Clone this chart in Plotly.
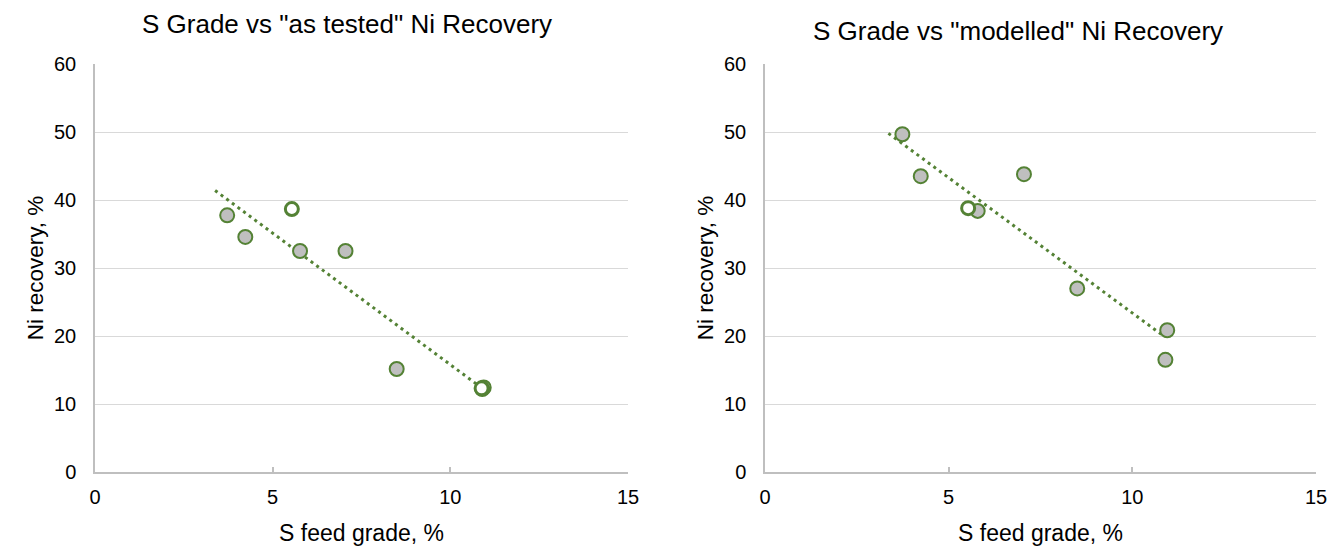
import plotly.graph_objects as go

# ---- data ----
tested_x = [3.72, 4.23, 5.77, 7.05, 8.49, 10.94, 10.90]
tested_y = [37.75, 34.57, 32.5, 32.5, 15.15, 12.43, 12.2]
tested_open_x = [5.54, 10.88]
tested_open_y = [38.67, 12.3]
tested_trend_x = [3.38, 10.9]
tested_trend_y = [41.4, 12.3]

model_x = [3.74, 4.24, 5.79, 7.05, 8.50, 10.95, 10.90]
model_y = [49.67, 43.5, 38.4, 43.8, 27.0, 20.85, 16.5]
model_open_x = [5.53]
model_open_y = [38.8]
model_trend_x = [3.36, 10.8]
model_trend_y = [49.8, 20.2]

titles = ['S Grade vs "as tested" Ni Recovery', 'S Grade vs "modelled" Ni Recovery']
x_title = "S feed grade, %"
y_title = "Ni recovery, %"
x_ticks = [0, 5, 10, 15]
y_ticks = [0, 10, 20, 30, 40, 50, 60]

GREEN = "#548235"
GRAY_FILL = "#bfbfbf"
FONT = "Liberation Sans, Arial, sans-serif"

fig = go.Figure()

panels = [
    (tested_x, tested_y, tested_open_x, tested_open_y, tested_trend_x, tested_trend_y, "x", "y"),
    (model_x, model_y, model_open_x, model_open_y, model_trend_x, model_trend_y, "x2", "y2"),
]
for px, py, ox, oy, tx, ty, xa, ya in panels:
    fig.add_trace(go.Scatter(x=tx, y=ty, mode="lines", xaxis=xa, yaxis=ya,
                             line=dict(color=GREEN, width=3, dash="3px,4px"),
                             showlegend=False, hoverinfo="skip"))
    fig.add_trace(go.Scatter(x=px, y=py, mode="markers", xaxis=xa, yaxis=ya,
                             marker=dict(size=14, color=GRAY_FILL,
                                         line=dict(color=GREEN, width=2)),
                             showlegend=False))
    fig.add_trace(go.Scatter(x=ox, y=oy, mode="markers", xaxis=xa, yaxis=ya,
                             marker=dict(size=13, color="white",
                                         line=dict(color=GREEN, width=3)),
                             showlegend=False))

W, H = 1343, 547
OFF = 8  # page body margin offset
dom_y = [(H - (472 - OFF)) / H, (H - (64 - OFF)) / H]
dom_x1 = [(95 - OFF) / W, (628 - OFF) / W]
dom_x2 = [(765 - OFF) / W, (1316 - OFF) / W]

xaxis_common = dict(showgrid=False, showline=True, linecolor="#bfbfbf", linewidth=1.5,
                    ticks="inside", ticklen=5, tickcolor="#bfbfbf", tickwidth=1.5,
                    tickfont=dict(family=FONT, size=20, color="#000"),
                    ticklabelstandoff=6,
                    tickvals=x_ticks, range=[0, 15], zeroline=False, automargin=False,
                    title=dict(text=x_title, font=dict(family=FONT, size=23, color="#000"),
                               standoff=18))
yaxis_common = dict(showgrid=True, gridcolor="#d9d9d9", gridwidth=1.2, showline=True,
                    linecolor="#bfbfbf", linewidth=1.5, ticks="",
                    tickfont=dict(family=FONT, size=20, color="#000"),
                    ticklabelstandoff=13,
                    tickvals=y_ticks, range=[0, 60], zeroline=False, automargin=False,
                    title=dict(text=y_title, font=dict(family=FONT, size=22.5, color="#000"),
                               standoff=4))

fig.update_layout(
    width=W, height=H,
    margin=dict(l=0, r=0, t=0, b=0),
    plot_bgcolor="white", paper_bgcolor="white",
    xaxis=dict(domain=dom_x1, anchor="y", **xaxis_common),
    yaxis=dict(domain=dom_y, anchor="x", **yaxis_common),
    xaxis2=dict(domain=dom_x2, anchor="y2", **xaxis_common),
    yaxis2=dict(domain=dom_y, anchor="x2", **yaxis_common),
    annotations=[
        dict(text=titles[0], x=(347 - OFF) / W, y=1.0, xref="paper", yref="paper",
             showarrow=False, font=dict(family=FONT, size=26, color="#000"),
             xanchor="center", yanchor="top", borderpad=0),
        dict(text=titles[1], x=(1018 - OFF) / W, y=1 - (31 - OFF) / H, xref="paper", yref="paper",
             showarrow=False, font=dict(family=FONT, size=26, color="#000"),
             xanchor="center", yanchor="middle"),
    ],
)

fig.write_html("out.html")
